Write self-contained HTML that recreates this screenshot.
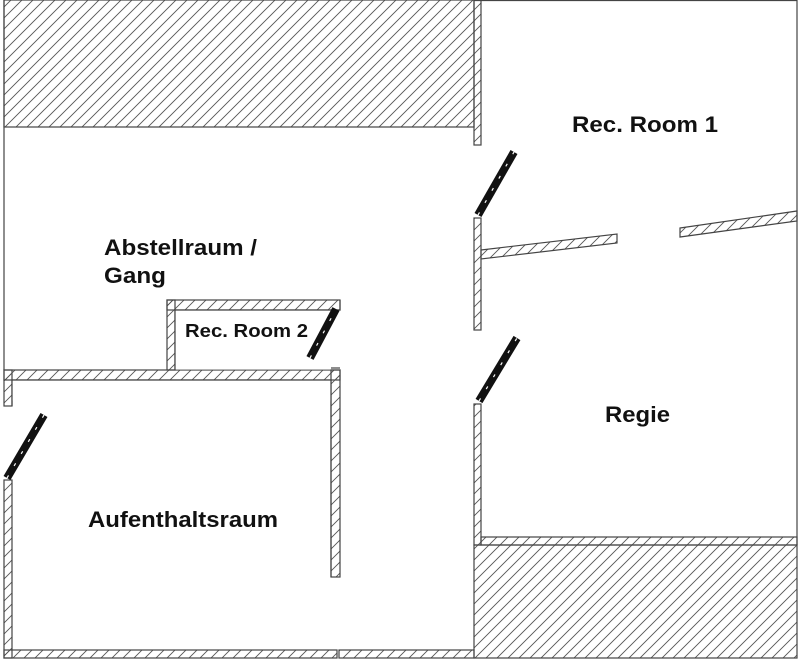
<!DOCTYPE html>
<html><head><meta charset="utf-8"><style>
html,body{margin:0;padding:0;background:#fff;}
svg{display:block;}
text{font-family:"Liberation Sans",Arial,sans-serif;font-weight:bold;fill:#111;}
</style></head><body>
<svg width="800" height="665" viewBox="0 0 800 665" xmlns="http://www.w3.org/2000/svg">
<defs>
<pattern id="h" patternUnits="userSpaceOnUse" width="11" height="11">
<path d="M-2,13 L13,-2 M-2,2 L2,-2 M9,13 L13,9" stroke="#555" stroke-width="0.9"/>
</pattern>
<pattern id="hw" patternUnits="userSpaceOnUse" width="11" height="11">
<path d="M-2,13 L13,-2 M-2,2 L2,-2 M9,13 L13,9" stroke="#555" stroke-width="0.9"/>
</pattern>
</defs>
<g stroke="#444" stroke-width="1.2">
<rect x="4" y="0" width="470" height="127" fill="url(#h)"/>
<line x1="474" y1="0.5" x2="797" y2="0.5"/>
<line x1="797" y1="0" x2="797" y2="545"/>
<rect x="474" y="0" width="7" height="145" fill="url(#hw)"/>
<rect x="474" y="218" width="7" height="112" fill="url(#hw)"/>
<polygon points="481,250 617,234 617,243 481,259" fill="url(#hw)"/>
<polygon points="680,228 797,211 797,221 680,237" fill="url(#hw)"/>
<rect x="474" y="404" width="7" height="141" fill="url(#hw)"/>
<rect x="481" y="537" width="316" height="8" fill="url(#hw)"/>
<rect x="474" y="545" width="323" height="113" fill="url(#h)"/>
<line x1="4" y1="0" x2="4" y2="370"/>
<rect x="4" y="370" width="8" height="36" fill="url(#hw)"/>
<rect x="4" y="480" width="8" height="178" fill="url(#hw)"/>
<rect x="4" y="650" width="333" height="8" fill="url(#hw)"/>
<rect x="339" y="650" width="135" height="8" fill="url(#hw)"/>
<rect x="4" y="370" width="336" height="10" fill="url(#hw)"/>
<rect x="331" y="370" width="9" height="207" fill="url(#hw)"/>
<rect x="167" y="300" width="173" height="10" fill="url(#hw)"/>
<rect x="167" y="300" width="8" height="70" fill="url(#hw)"/>
</g>
<g fill="#fff">
<rect x="12.6" y="380.6" width="317.8" height="20"/>
<rect x="175.6" y="310.6" width="155" height="59"/>
</g>
<g stroke="#444" stroke-width="1.2" fill="none">
<path d="M12,406 L12,380 L331,380 L331,577"/>
<path d="M175,370 L175,310 L340,310 L340,300"/>
<line x1="331" y1="368" x2="340" y2="368"/>
</g>
<g stroke-linecap="butt">
<g stroke="#111" stroke-width="8">
<line x1="478" y1="215" x2="514" y2="152"/>
<line x1="479" y1="401" x2="517" y2="338"/>
<line x1="7" y1="478" x2="44" y2="415"/>
<line x1="310" y1="358" x2="336" y2="309"/>
</g>
<g stroke="#fff" stroke-width="1.2" stroke-dasharray="3 11">
<line x1="478" y1="215" x2="514" y2="152"/>
<line x1="479" y1="401" x2="517" y2="338"/>
<line x1="7" y1="478" x2="44" y2="415"/>
<line x1="310" y1="358" x2="336" y2="309"/>
</g>
</g>
<text x="572" y="132" font-size="22" textLength="146" lengthAdjust="spacingAndGlyphs">Rec. Room 1</text>
<text x="104" y="255" font-size="22" textLength="153" lengthAdjust="spacingAndGlyphs">Abstellraum /</text>
<text x="104" y="283" font-size="22" textLength="62" lengthAdjust="spacingAndGlyphs">Gang</text>
<text x="185" y="337" font-size="18" textLength="123" lengthAdjust="spacingAndGlyphs">Rec. Room 2</text>
<text x="605" y="422" font-size="22" textLength="65" lengthAdjust="spacingAndGlyphs">Regie</text>
<text x="88" y="527" font-size="22" textLength="190" lengthAdjust="spacingAndGlyphs">Aufenthaltsraum</text>
</svg>
</body></html>
